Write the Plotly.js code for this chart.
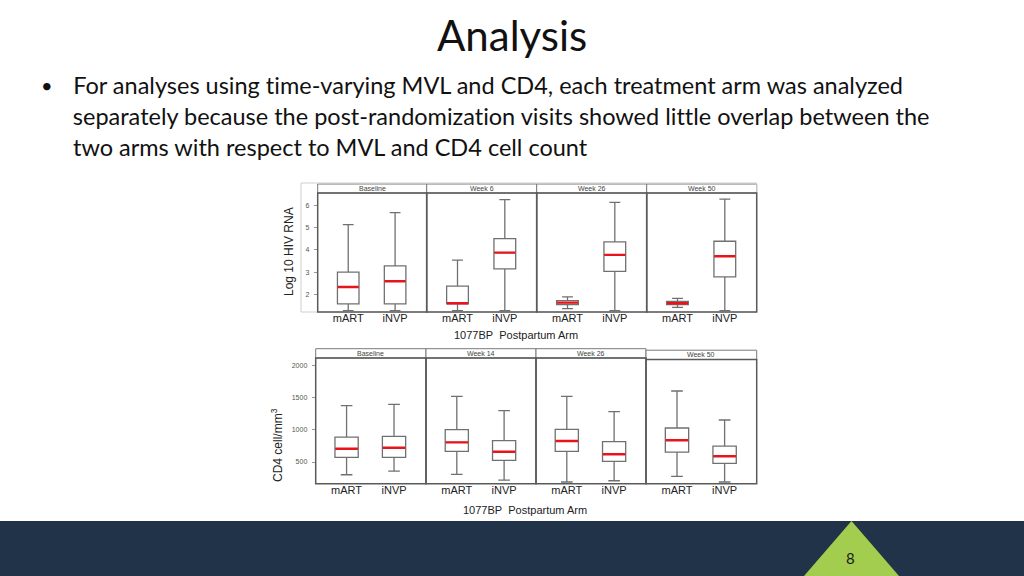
<!DOCTYPE html>
<html>
<head>
<meta charset="utf-8">
<script src="https://cdn.plot.ly/plotly-3.0.1.min.js"></script>
<style>
  html, body { margin: 0; padding: 0; background: #fff; }
  #slide { width: 1024px; height: 576px; }
  #slide svg text, #slide svg tspan {
    font-variant-ligatures: none !important;
    font-feature-settings: "liga" 0, "clig" 0, "dlig" 0 !important;
  }
</style>
</head>
<body>
<div id="slide"></div>
<script>
// data
var arms = ['mART', 'iNVP'];

var rnaVisits = ['Baseline', 'Week 6', 'Week 26', 'Week 50'];
var rnaUpper  = [[5.13, 5.67], [3.54, 6.25], [1.90, 6.13], [1.83, 6.28]];
var rnaQ3     = [[3.01, 3.29], [2.38, 4.51], [1.73, 4.36], [1.70, 4.39]];
var rnaMedian = [[2.34, 2.60], [1.61, 3.88], [1.64, 3.78], [1.61, 3.72]];
var rnaQ1     = [[1.58, 1.58], [1.58, 3.15], [1.55, 3.04], [1.55, 2.79]];
var rnaLower  = [[1.28, 1.28], [1.28, 1.28], [1.37, 1.28], [1.43, 1.28]];
var rnaTicks  = [2, 3, 4, 5, 6];

var cd4Visits = ['Baseline', 'Week 14', 'Week 26', 'Week 50'];
var cd4Upper  = [[1375, 1395], [1519, 1297], [1519, 1281], [1602, 1152]];
var cd4Q3     = [[888, 898], [1002, 831], [1007, 816], [1028, 748]];
var cd4Median = [[707, 722], [805, 660], [826, 620], [838, 590]];
var cd4Q1     = [[572, 572], [665, 526], [665, 510], [655, 479]];
var cd4Lower  = [[303, 360], [309, 221], [190, 210], [278, 190]];
var cd4Ticks  = [500, 1000, 1500, 2000];

var bulletLines = [
    'For analyses using time-varying MVL and CD4, each treatment arm was analyzed',
    'separately because the post-randomization visits showed little overlap between the',
    'two arms with respect to MVL and CD4 cell count'
];

// pixel -> paper helpers
function px(x) { return x / 1024; }
function py(y) { return 1 - y / 576; }

var traces = [];
var layout = {
    width: 1024,
    height: 576,
    margin: {l: 0, r: 0, t: 0, b: 0},
    paper_bgcolor: '#fff',
    plot_bgcolor: 'rgba(0,0,0,0)',
    showlegend: false,
    shapes: [],
    annotations: []
};

var slideFont = 'Lato, "Open Sans", sans-serif';
var chartFont = '"Liberation Sans", Arial, sans-serif';

function note(x, y, text, font, extra) {
    var a = {xref: 'paper', yref: 'paper', x: px(x), y: py(y), text: text,
        showarrow: false, xanchor: 'center', yanchor: 'middle', font: font};
    for (var k in extra) a[k] = extra[k];
    layout.annotations.push(a);
}

function addChart(opt) {
    // outer frame
    if (opt.frame) {
        layout.shapes.push({type: 'rect', xref: 'paper', yref: 'paper',
            x0: px(opt.frame[0]), x1: px(opt.edges[4]), y0: py(opt.bottom), y1: py(opt.stripTop - 1),
            line: {color: '#cfcfcf', width: 1}});
    }
    var yName = opt.yId === 'y' ? 'yaxis' : 'yaxis' + opt.yId.slice(1);
    layout[yName] = {
        domain: [py(opt.bottom), py(opt.plotTop)],
        anchor: 'x' + opt.firstX,
        range: opt.yRange,
        tickvals: opt.ticks,
        ticks: 'outside', ticklen: 3, tickcolor: '#999', tickwidth: 1,
        ticklabelstandoff: 3,
        tickfont: {family: chartFont, size: 7, color: '#555'},
        showgrid: false, zeroline: false, showline: false, fixedrange: true
    };
    for (var i = 0; i < 4; i++) {
        var n = opt.firstX + i;
        var xId = 'x' + n;
        var l = opt.edges[i], r = opt.edges[i + 1];
        layout['xaxis' + n] = {
            domain: [px(l), px(r)],
            anchor: opt.yId,
            type: 'category',
            categoryarray: arms,
            range: [-0.651, 1.674],
            showgrid: false, zeroline: false, showline: false,
            ticks: '', ticklabelstandoff: -2,
            tickfont: {family: chartFont, size: 11, color: '#222'},
            fixedrange: true
        };
        traces.push({
            type: 'box', xaxis: xId, yaxis: opt.yId,
            x: arms,
            q1: opt.q1[i], median: opt.median[i], q3: opt.q3[i],
            lowerfence: opt.lower[i], upperfence: opt.upper[i],
            width: opt.boxWidth, whiskerwidth: 0.5,
            fillcolor: '#fff',
            line: {color: '#707070', width: 1.3},
            boxpoints: false, hoverinfo: 'skip'
        });
        // red median bars
        traces.push({
            type: 'box', xaxis: xId, yaxis: opt.yId,
            x: arms,
            q1: opt.median[i], median: opt.median[i], q3: opt.median[i],
            lowerfence: opt.median[i], upperfence: opt.median[i],
            width: opt.boxWidth * 0.97, whiskerwidth: 0,
            fillcolor: 'rgba(0,0,0,0)',
            line: {color: '#e8141c', width: 2.4},
            boxpoints: false, hoverinfo: 'skip'
        });
        var shift = opt.stripShift ? opt.stripShift[i] : 0;
        var sTop = opt.stripTop + shift;
        var pTop = opt.plotTop + shift;
        // strip header
        layout.shapes.push({type: 'rect', xref: 'paper', yref: 'paper',
            x0: px(l), x1: px(r), y0: py(pTop), y1: py(sTop),
            fillcolor: '#fff', line: {color: '#7a7a7a', width: 1}, layer: 'below'});
        note((l + r) / 2, (sTop + pTop) / 2, opt.visits[i],
            {family: chartFont, size: 7, color: '#444'});
        // panel border
        layout.shapes.push({type: 'rect', xref: 'paper', yref: 'paper',
            x0: px(l), x1: px(r), y0: py(opt.bottom), y1: py(pTop),
            line: {color: '#5a5a5a', width: 1.5}});
    }
    note(opt.xTitle[0], opt.xTitle[1], '1077BP\u00a0\u00a0Postpartum Arm',
        {family: chartFont, size: 11, color: '#222'});
    note(opt.yTitle[0], opt.yTitle[1], opt.yLabel,
        {family: chartFont, size: 12, color: '#222'}, {textangle: -90});
}

addChart({
    firstX: 1, yId: 'y',
    edges: [317.7, 426.7, 536.7, 646.7, 756.7],
    stripTop: 184, plotTop: 193, bottom: 312,
    frame: [301],
    yRange: [1.22, 6.55], ticks: rnaTicks,
    visits: rnaVisits,
    q1: rnaQ1, median: rnaMedian, q3: rnaQ3, lower: rnaLower, upper: rnaUpper,
    boxWidth: 0.46,
    xTitle: [516, 335], yTitle: [289, 252], yLabel: 'Log 10 HIV RNA'
});

addChart({
    firstX: 5, yId: 'y2',
    edges: [315.7, 426, 536, 646, 756.7],
    stripTop: 348.7, plotTop: 358, bottom: 483.7,
    stripShift: [0, 0, 0, 1.5],
    yRange: [164, 2114], ticks: cd4Ticks,
    visits: cd4Visits,
    q1: cd4Q1, median: cd4Median, q3: cd4Q3, lower: cd4Lower, upper: cd4Upper,
    boxWidth: 0.49,
    xTitle: [525, 510], yTitle: [277, 445], yLabel: 'CD4 cell/mm<sup>3</sup>'
});

// slide title and bullet
note(512, 35, 'Analysis', {family: slideFont, size: 42, color: '#111'});
note(47, 85, '•', {family: slideFont, size: 20, color: '#111'});
bulletLines.forEach(function (line, k) {
    note(71, 85 + 31 * k, line, {family: slideFont, size: 23.5, color: '#111'}, {xanchor: 'left'});
});

// footer bar with page number
layout.shapes.push({type: 'rect', xref: 'paper', yref: 'paper',
    x0: 0, x1: 1, y0: 0, y1: py(521), fillcolor: '#203349', line: {width: 0}, layer: 'below'});
layout.shapes.push({type: 'path', xref: 'paper', yref: 'paper',
    path: 'M ' + px(804) + ',' + py(576) + ' L ' + px(851.5) + ',' + py(521) + ' L ' + px(899) + ',' + py(576) + ' Z',
    fillcolor: '#a3cd4e', line: {width: 0}, layer: 'below'});
note(850, 558, '8', {family: slideFont, size: 15, color: '#1a1a1a'});

Plotly.newPlot('slide', traces, layout, {staticPlot: true, displayModeBar: false});
</script>
</body>
</html>
